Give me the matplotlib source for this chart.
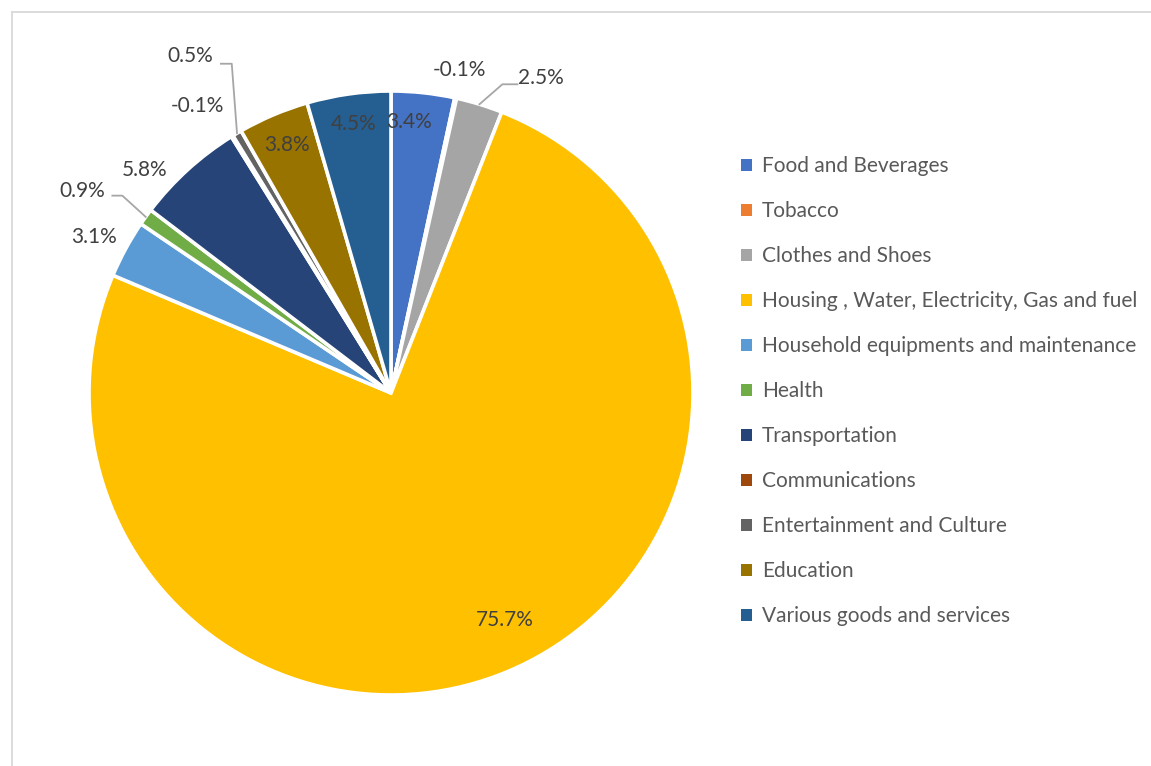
import numpy as np
import matplotlib
matplotlib.use('Agg')
import matplotlib.pyplot as plt
from matplotlib.lines import Line2D
from matplotlib.patches import Patch

categories = ['Food and Beverages', 'Tobacco', 'Clothes and Shoes',
              'Housing , Water, Electricity, Gas and fuel',
              'Household equipments and maintenance', 'Health',
              'Transportation', 'Communications', 'Entertainment and Culture',
              'Education', 'Various goods and services']
values = [3.4, -0.1, 2.5, 75.7, 3.1, 0.9, 5.8, -0.1, 0.5, 3.8, 4.5]
colors = ['#4472C4', '#ED7D31', '#A5A5A5', '#FFC000', '#5B9BD5', '#70AD47',
          '#264478', '#9E480E', '#636363', '#997300', '#255E91']

# label placement (radius, angle nudge in degrees) per slice
label_r = [0.90, 1.094, 1.155, 0.841, 1.112, 1.222, 1.10, 1.148, 1.299, 0.89, 0.90]
label_dt = [-2.3, -0.5, 8.5, -3.8, -0.8, -2.4, -5.5, -2.3, -0.1, 0.1, 0.2]
# leader lines: index -> (elbow offset, end offset) from label centre
leaders = {2: ((-0.129, -0.020), (-0.079, -0.020)),
           5: ((0.132, -0.017), (0.099, -0.017)),
           8: ((0.137, -0.026), (0.101, -0.026))}

plt.rcParams['font.family'] = ['Lato', 'DejaVu Sans']

W, H = 1151, 766
fig = plt.figure(figsize=(W / 100, H / 100), dpi=100)
cx, cy, R = 391, 393, 302
ax = fig.add_axes([(cx - R) / W, (H - cy - R) / H, 2 * R / W, 2 * R / H])

sizes = [abs(v) for v in values]
wedges, _ = ax.pie(sizes, colors=colors, startangle=90, counterclock=False,
                   radius=1.0, wedgeprops=dict(edgecolor='white', linewidth=2.6))
ax.set_xlim(-1, 1)
ax.set_ylim(-1, 1)
ax.axis('off')

for i, w in enumerate(wedges):
    mid = np.deg2rad((w.theta1 + w.theta2) / 2)
    # mid angle measured counter-clockwise from +x; nudge clockwise
    ang = mid - np.deg2rad(label_dt[i])
    lx, ly = label_r[i] * np.cos(ang), label_r[i] * np.sin(ang)
    ax.text(lx, ly, f'{values[i]:.1f}%', ha='center', va='center',
            fontsize=15, color='#404040', clip_on=False)
    if i in leaders:
        (ex, ey), (nx, ny) = leaders[i]
        x0, y0 = np.cos(mid), np.sin(mid)
        ax.plot([x0, lx + ex, lx + nx], [y0, ly + ey, ly + ny],
                color='#A6A6A6', lw=1.3, clip_on=False)

handles = [Patch(facecolor=c, edgecolor='none') for c in colors]
ax.legend(handles, categories, loc='upper left',
          bbox_to_anchor=(741 / W, 1 - 156 / H), bbox_transform=fig.transFigure,
          frameon=False, fontsize=15, labelcolor='#595959',
          handlelength=0.52, handleheight=0.52, handletextpad=0.5,
          labelspacing=1.20, borderpad=0, borderaxespad=0)

# chart-area border (top and left edges visible)
bx, by = 11.5 / W, 1 - 12 / H
fig.add_artist(Line2D([bx, 1], [by, by], color='#D9D9D9', lw=1.3))
fig.add_artist(Line2D([bx, bx], [0, by], color='#D9D9D9', lw=1.3))

fig.savefig('out.png', dpi=100, facecolor='white')
plt.close(fig)
